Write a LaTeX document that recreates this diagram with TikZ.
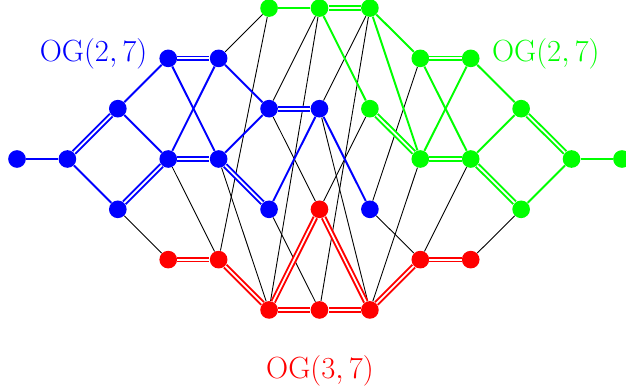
\documentclass[tikz,border=0pt]{standalone}
\usetikzlibrary{positioning}
\usepackage{amsmath}

\begin{document}
\begin{tikzpicture}[x=1cm,y=-0.998cm,
        dot/.style={circle,inner sep=0pt,minimum size=0.35cm},
        link/.style={line width=1.1pt},
        dlink/.style={line width=1.1pt,double=white,double distance=1pt},
        cross/.style={black,line width=0.5pt},
        lbl/.style={font=\fontsize{18}{21}\selectfont}]
        \useasboundingbox (-0.337,-0.16) rectangle (12.08,7.63);
        % vertices
        \foreach \x/\y in {0/3,1/3,2/2,2/4,3/1,3/3,4/1,4/3,5/2,5/4,6/2,7/4}
            \node[dot,fill=blue] (n\x-\y) at (\x,\y) {};
        \foreach \x/\y in {5/0,6/0,7/0,7/2,8/1,9/1,8/3,9/3,10/2,10/4,11/3,12/3}
            \node[dot,fill=green] (n\x-\y) at (\x,\y) {};
        \foreach \x/\y in {3/5,4/5,5/6,6/4,6/6,7/6,8/5,9/5}
            \node[dot,fill=red] (n\x-\y) at (\x,\y) {};
        % edges between the three pieces
        \foreach \a/\b in {4-1/5-0,5-0/4-5,6-0/5-2,6-0/5-6,7-0/6-2,7-0/6-6,
                5-2/6-4,6-2/7-6,7-2/6-4,8-1/7-4,8-3/7-6,7-4/8-5,9-3/8-5,
                10-4/9-5,2-4/3-5,3-3/4-5,4-3/5-6,5-4/6-6}
            \draw[cross] (n\a) -- (n\b);
        % blue
        \foreach \a/\b in {0-3/1-3,1-3/2-4,2-2/3-1,2-2/3-3,3-1/4-3,3-3/4-1,
                4-1/5-2,4-3/5-2,6-2/7-4,6-2/5-4}
            \draw[link,blue] (n\a) -- (n\b);
        \foreach \a/\b in {1-3/2-2,2-4/3-3,3-1/4-1,3-3/4-3,4-3/5-4,5-2/6-2}
            \draw[dlink,blue] (n\a) -- (n\b);
        % green
        \foreach \a/\b in {5-0/6-0,6-0/7-2,7-0/8-1,7-0/8-3,8-1/9-3,8-3/9-1,
                9-1/10-2,9-3/10-2,10-4/11-3,11-3/12-3}
            \draw[link,green] (n\a) -- (n\b);
        \foreach \a/\b in {6-0/7-0,7-2/8-3,8-1/9-1,8-3/9-3,9-3/10-4,10-2/11-3}
            \draw[dlink,green] (n\a) -- (n\b);
        % red
        \foreach \a/\b in {3-5/4-5,4-5/5-6,5-6/6-4,6-4/7-6,5-6/6-6,6-6/7-6,
                7-6/8-5,8-5/9-5}
            \draw[dlink,red] (n\a) -- (n\b);
        % labels
        \node[lbl,text=blue] (ogb) at (1.52,0.91) {$\mathrm{OG}(2,7)$};
        \node[lbl,text=green] (ogg) at (10.49,0.92) {$\mathrm{OG}(2,7)$};
        \node[lbl,text=red] (ogr) at (6.01,7.22) {$\mathrm{OG}(3,7)$};
    \end{tikzpicture}
\end{document}
